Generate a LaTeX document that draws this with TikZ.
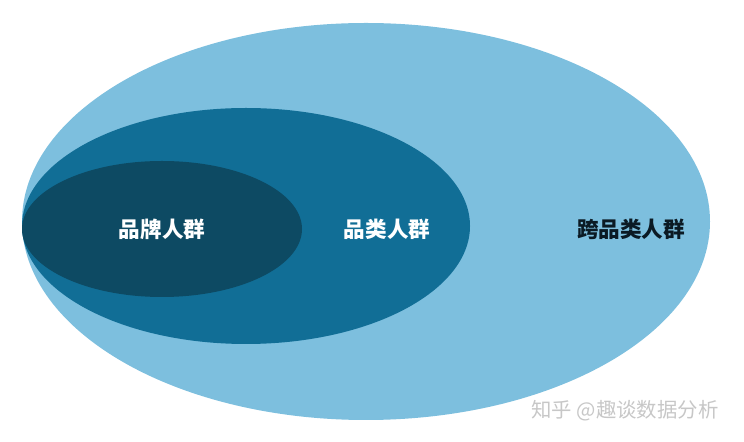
\documentclass[tikz,border=0pt]{standalone}
\usepackage{fontspec}
\newfontfamily\cjk{Noto Sans CJK SC}
\definecolor{outerblue}{HTML}{7DBFDE}
\definecolor{midblue}{HTML}{116E96}
\definecolor{innerblue}{HTML}{0D4A63}
\definecolor{darktext}{HTML}{0B1A24}
\begin{document}
\begin{tikzpicture}[x=0.5pt,y=-0.5pt,
		label/.style={font=\cjk\bfseries\fontsize{10.8}{12}\selectfont}]
		\useasboundingbox (0,0) rectangle (744,442);
		\fill [color=outerblue] (366,221.5) ellipse (344 and 198.5);
		\fill [color=midblue] (246,226) ellipse (224 and 118);
		\fill [color=innerblue] (162,229) ellipse (140 and 68);
		\node[label,text=white] (brand) at (162,229) {品牌人群};
		\node[label,text=white] (category) at (387,229) {品类人群};
		\node[label,text=darktext] (cross) at (631,229) {跨品类人群};
		\node[font=\cjk\fontsize{10.2}{12}\selectfont,text=black!22] (mark) at (625,411) {知乎 @趣谈数据分析};
	\end{tikzpicture}
\end{document}
